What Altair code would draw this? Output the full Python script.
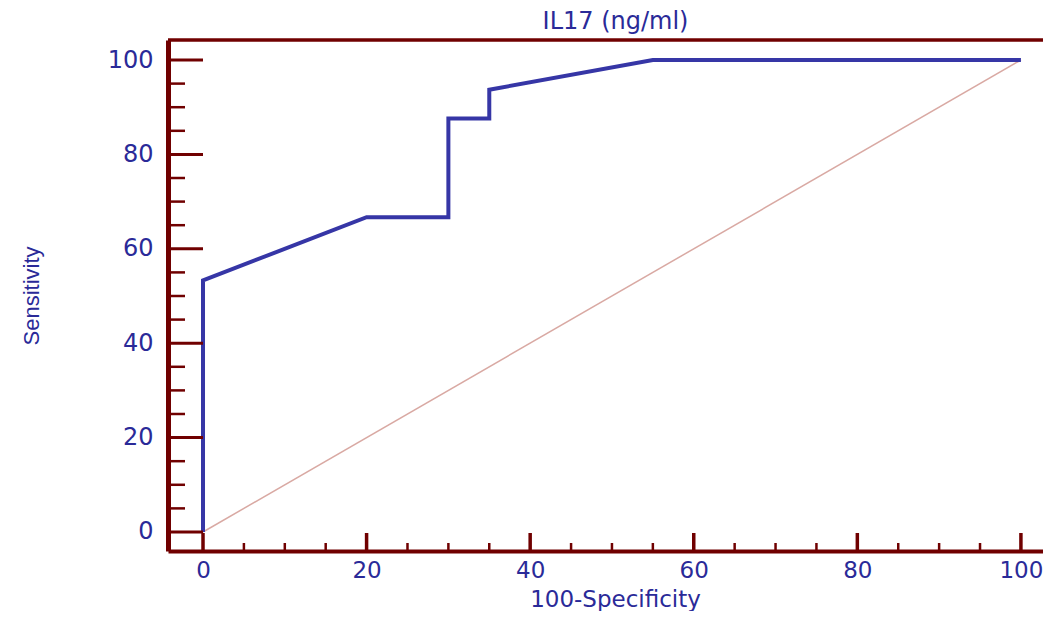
import altair as alt
import pandas as pd

# ROC curve points (100-Specificity, Sensitivity)
fpr = [0, 0, 20, 30, 30, 35, 35, 55, 100]
tpr = [0, 53.3, 66.7, 66.7, 87.6, 87.6, 93.7, 100, 100]
# reference diagonal
diag_x = [0, 100]
diag_y = [0, 100]
major_ticks = [0, 20, 40, 60, 80, 100]
minor_ticks = [5, 10, 15, 25, 30, 35, 45, 50, 55, 65, 70, 75, 85, 90, 95]
title_text = ["IL17 (ng/ml)"]
x_title = "100-Specificity"
y_title = "Sensitivity"

BLUE_TXT = "#2A2A98"
BLUE_LINE = "#3636A6"
MAROON = "#700000"
PINK = "#D9A9A3"

W, H = 875, 511
xs = alt.Scale(domain=[-4.28, 102.7], nice=False, zero=False)
ys = alt.Scale(domain=[-4.03, 104.24], nice=False, zero=False)

roc = pd.DataFrame({"x": fpr, "y": tpr, "i": list(range(len(fpr)))})
diag = pd.DataFrame({"x": diag_x, "y": diag_y})
maj = pd.DataFrame({"x": major_ticks, "y": major_ticks})
mnr = pd.DataFrame({"x": minor_ticks, "y": minor_ticks})
ttl = pd.DataFrame({"t": title_text})

x_axis = alt.Axis(
    values=major_ticks, title=x_title, grid=False, ticks=False,
    domainColor=MAROON, domainWidth=4,
    labelFont="DejaVu Sans", labelFontSize=23, labelColor=BLUE_TXT, labelPadding=8,
    titleFont="DejaVu Sans", titleFontSize=23, titleFontWeight="normal", titleColor=BLUE_TXT,
    titleX=447, titleY=55, titleBaseline="alphabetic",
)
y_axis = alt.Axis(
    values=major_ticks, title=y_title, grid=False, ticks=False,
    domainColor=MAROON, domainWidth=5,
    labelFont="DejaVu Sans", labelFontSize=24, labelColor=BLUE_TXT, labelPadding=15,
    titleFont="Liberation Sans", titleFontSize=22, titleFontWeight="normal", titleColor=BLUE_TXT,
    titleX=-130, titleBaseline="alphabetic",
)

X = alt.X("x:Q", scale=xs, axis=x_axis)
Y = alt.Y("y:Q", scale=ys, axis=y_axis)

diag_layer = alt.Chart(diag).mark_line(color=PINK, strokeWidth=1.5).encode(x=X, y=Y)

roc_layer = alt.Chart(roc).mark_line(color=BLUE_LINE, strokeWidth=4, strokeJoin="miter").encode(
    x=X, y=Y, order="i:Q"
)

y_major = alt.Chart(maj).mark_rule(color=MAROON, strokeWidth=3).encode(
    y=Y, x=alt.value(0), x2=alt.value(35)
)
y_minor = alt.Chart(mnr).mark_rule(color=MAROON, strokeWidth=2.5).encode(
    y=Y, x=alt.value(0), x2=alt.value(17)
)
x_major = alt.Chart(maj).mark_rule(color=MAROON, strokeWidth=3.5).encode(
    x=X, y=alt.value(H), y2=alt.value(H - 18)
)
x_minor = alt.Chart(mnr).mark_rule(color=MAROON, strokeWidth=2.5).encode(
    x=X, y=alt.value(H), y2=alt.value(H - 8)
)
top_frame = alt.Chart(ttl).mark_rule(color=MAROON, strokeWidth=3.5).encode(
    x=alt.value(0), x2=alt.value(W), y=alt.value(0)
)
title_layer = alt.Chart(ttl).mark_text(
    font="DejaVu Sans", fontSize=24, color=BLUE_TXT, baseline="alphabetic", align="center"
).encode(text="t:N", x=alt.value(W / 2 + 10), y=alt.value(-11))

chart = alt.layer(
    diag_layer, roc_layer, y_major, y_minor, x_major, x_minor, top_frame, title_layer
).properties(
    width=W, height=H,
    autosize=alt.AutoSizeParams(type="none"),
    padding={"left": 160, "top": 32, "right": 0, "bottom": 60},
).configure_view(stroke="transparent")

chart.save("out.html", embed_options={"renderer": "svg", "actions": False})
